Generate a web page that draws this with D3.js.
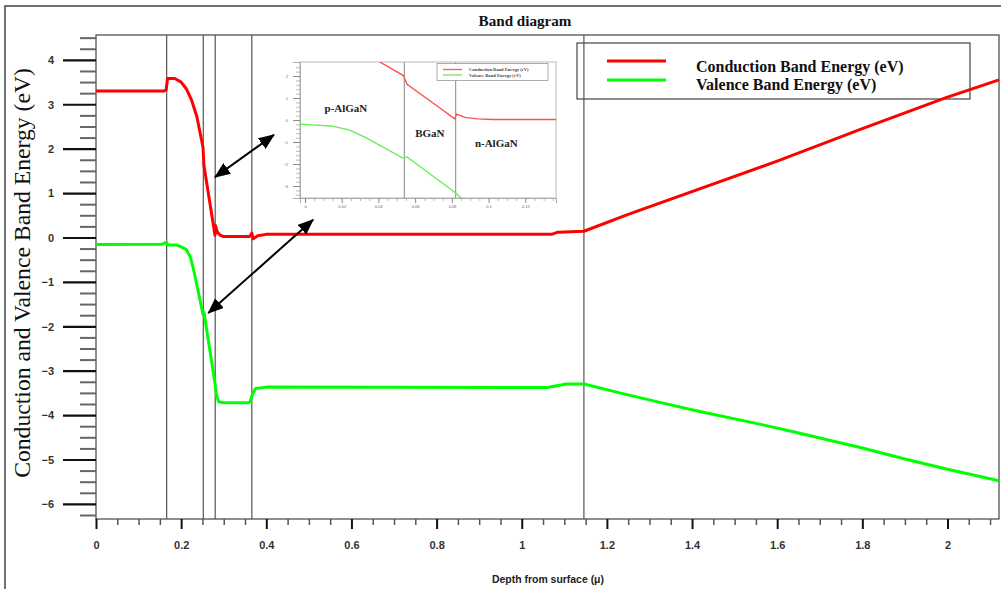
<!DOCTYPE html>
<html>
<head>
<meta charset="utf-8">
<script src="https://cdn.jsdelivr.net/npm/d3@7"></script>
<style>
  html, body { margin: 0; padding: 0; background: #fff; }
  svg { display: block; }
</style>
</head>
<body>
<svg id="chart" width="1001" height="589"></svg>
<script>
// ---------------- DATA ----------------
const title = "Band diagram";
const xLabel = "Depth from surface (\u03bc)";
const yLabel = "Conduction and Valence Band Energy (eV)";
const seriesNames = ["Conduction Band Energy (eV)", "Valence Band Energy (eV)"];

// Conduction band (depth in µm, energy in eV)
const cbX = [0, 0.160, 0.165, 0.168, 0.185, 0.200, 0.212, 0.225, 0.237, 0.2515, 0.2535, 0.268, 0.2795, 0.2805, 0.285, 0.292, 0.300, 0.360, 0.364, 0.366, 0.369, 0.380, 0.400, 1.070, 1.085, 1.146, 1.250, 1.600, 1.800, 2.000, 2.121];
const cbY = [3.30, 3.30, 3.33, 3.58, 3.58, 3.50, 3.35, 3.08, 2.72, 2.02, 1.62, 0.75, 0.05, 0.27, 0.12, 0.05, 0.02, 0.02, 0.06, 0.10, -0.03, 0.04, 0.07, 0.07, 0.12, 0.14, 0.52, 1.72, 2.45, 3.16, 3.55];

// Valence band
const vbX = [0, 0.155, 0.165, 0.170, 0.190, 0.200, 0.212, 0.222, 0.231, 0.2515, 0.2535, 0.2795, 0.283, 0.288, 0.300, 0.358, 0.362, 0.368, 0.375, 0.400, 1.060, 1.105, 1.146, 1.230, 1.332, 1.418, 1.567, 1.653, 1.800, 1.900, 2.000, 2.121];
const vbY = [-0.16, -0.15, -0.11, -0.17, -0.17, -0.21, -0.27, -0.45, -0.80, -1.74, -1.68, -3.28, -3.55, -3.70, -3.72, -3.72, -3.70, -3.52, -3.40, -3.37, -3.38, -3.30, -3.30, -3.50, -3.73, -3.92, -4.22, -4.41, -4.74, -4.99, -5.22, -5.48];

// Layer boundaries (µm)
const layerBounds = [0.166, 0.252, 0.280, 0.366, 1.146];

// Axis ticks
const xTicks = [0, 0.2, 0.4, 0.6, 0.8, 1, 1.2, 1.4, 1.6, 1.8, 2];
const yTicks = [4, 3, 2, 1, 0, -1, -2, -3, -4, -5, -6];

// Inset
const insetTickLabels = ["0", "0.02", "0.04", "0.06", "0.08", "0.1", "0.12"];
const insetYTicks = [2, 1, 0, -1, -2, -3];
const insetLayers = ["p-AlGaN", "BGaN", "n-AlGaN"];
const insetLayerPos = [[0.2202, 0.38], [0.2659, -0.77], [0.3021, -1.24]];

// Annotation arrows (data coordinates)
const arrows = [
  { x1: 0.2795, y1: 1.36, x2: 0.418, y2: 2.31 },
  { x1: 0.2637, y1: -1.70, x2: 0.510, y2: 0.40 }
];

// ---------------- DRAW ----------------
const svg = d3.select("#chart");
const SERIF = "'Liberation Serif','Times New Roman',serif";
const SANS = "'Liberation Sans',Arial,sans-serif";
const RED = "#ff0000", GREEN = "#00ff00";

const W = { l: 96, r: 999, t: 35, b: 519 };
const x = d3.scaleLinear().domain([0, 2.121]).range([W.l, W.r]);
const y = d3.scaleLinear().domain([-6.34, 4.56]).range([W.b, W.t]);

// outer frame
svg.append("rect").attr("x", 5).attr("y", 6).attr("width", 1010).attr("height", 600)
  .attr("fill", "none").attr("stroke", "#444").attr("stroke-width", 1.5);

function fitText(sel, target) {
  const len = sel.node().getComputedTextLength();
  const fs = parseFloat(sel.attr("font-size"));
  sel.attr("font-size", fs * target / len);
}

// title
fitText(svg.append("text").attr("x", 525).attr("y", 26).attr("text-anchor", "middle")
  .attr("font-family", SERIF).attr("font-weight", "bold").attr("font-size", 15)
  .attr("fill", "#111").text(title), 93);

// plot frame
svg.append("rect").attr("x", W.l).attr("y", W.t).attr("width", W.r - W.l).attr("height", W.b - W.t)
  .attr("fill", "none").attr("stroke", "#444").attr("stroke-width", 1.2);

// Y axis ticks
const yMinor = d3.range(-6.25, 4.56, 0.25).filter(v => Math.abs(v - Math.round(v)) > 1e-6);
const yAxisMinor = d3.axisLeft(y).tickValues(yMinor).tickSize(16).tickFormat("");
const yAxisMajor = d3.axisLeft(y).tickValues(yTicks).tickSize(33).tickPadding(10).tickFormat(d3.format("d"));
const gyMin = svg.append("g").attr("transform", `translate(${W.l},0)`).call(yAxisMinor);
gyMin.select(".domain").remove();
gyMin.selectAll("line").attr("stroke", "#666").attr("stroke-width", 2);
const gyMaj = svg.append("g").attr("transform", `translate(${W.l},0)`).call(yAxisMajor);
gyMaj.select(".domain").remove();
gyMaj.selectAll("line").attr("stroke", "#111").attr("stroke-width", 2.2);
gyMaj.selectAll("text").attr("font-family", SANS).attr("font-weight", "bold")
  .attr("font-size", 11).attr("fill", "#333").attr("x", -42).attr("dy", "0.35em");

// X axis ticks
const xMinor = d3.range(0.05, 2.12, 0.05).filter(v => Math.abs(v * 5 - Math.round(v * 5)) > 1e-6);
const xAxisMinor = d3.axisBottom(x).tickValues(xMinor).tickSize(6).tickFormat("");
const xAxisMajor = d3.axisBottom(x).tickValues(xTicks).tickSize(10).tickPadding(12).tickFormat(d3.format("~g"));
const gxMin = svg.append("g").attr("transform", `translate(0,${W.b})`).call(xAxisMinor);
gxMin.select(".domain").remove();
gxMin.selectAll("line").attr("stroke", "#555").attr("stroke-width", 1.5);
const gxMaj = svg.append("g").attr("transform", `translate(0,${W.b})`).call(xAxisMajor);
gxMaj.select(".domain").remove();
gxMaj.selectAll("line").attr("stroke", "#111").attr("stroke-width", 2);
gxMaj.selectAll("text").attr("font-family", SANS).attr("font-weight", "bold")
  .attr("font-size", 11).attr("fill", "#333");

// axis labels
fitText(svg.append("text").attr("x", 548).attr("y", 583).attr("text-anchor", "middle")
  .attr("font-family", SANS).attr("font-weight", "bold").attr("font-size", 10)
  .attr("fill", "#222").text(xLabel), 112);
fitText(svg.append("text").attr("transform", "translate(30,273) rotate(-90)").attr("text-anchor", "middle")
  .attr("font-family", SERIF).attr("font-size", 20).attr("fill", "#111").text(yLabel), 410);

// layer boundaries
svg.append("g").selectAll("line").data(layerBounds).join("line")
  .attr("x1", d => x(d)).attr("x2", d => x(d)).attr("y1", W.t).attr("y2", W.b)
  .attr("stroke", "#555").attr("stroke-width", 1.2);

// legend
const lg = svg.append("g");
lg.append("rect").attr("x", 577).attr("y", 43).attr("width", 393).attr("height", 56)
  .attr("fill", "none").attr("stroke", "#444").attr("stroke-width", 1.2);
[RED, GREEN].forEach((c, i) => {
  lg.append("line").attr("x1", 607).attr("x2", 666).attr("y1", 61 + i * 19).attr("y2", 61 + i * 19)
    .attr("stroke", c).attr("stroke-width", 3);
  lg.append("text").attr("x", 696).attr("y", 72 + i * 18).attr("font-family", SERIF)
    .attr("font-weight", "bold").attr("font-size", 16).attr("fill", "#111").text(seriesNames[i]);
});

// band curves
const line = d3.line().x(d => x(d[0])).y(d => y(d[1]));
const cb = d3.zip(cbX, cbY), vb = d3.zip(vbX, vbY);
svg.append("path").datum(cb).attr("d", line).attr("fill", "none").attr("stroke", RED)
  .attr("stroke-width", 3).attr("stroke-linejoin", "round");
svg.append("path").datum(vb).attr("d", line).attr("fill", "none").attr("stroke", GREEN)
  .attr("stroke-width", 3).attr("stroke-linejoin", "round");

// ---------------- INSET ----------------
const I = { l: 300, r: 556, t: 62, b: 198 };
const ix = d3.scaleLinear().domain([0.19518, 0.33464]).range([I.l, I.r]);
const iy = d3.scaleLinear().domain([-3.545, 2.636]).range([I.b, I.t]);
const defs = svg.append("defs");
defs.append("clipPath").attr("id", "insetClip").append("rect")
  .attr("x", I.l).attr("y", I.t).attr("width", I.r - I.l).attr("height", I.b - I.t);

const ins = svg.append("g");
ins.append("rect").attr("x", I.l).attr("y", I.t).attr("width", I.r - I.l).attr("height", I.b - I.t)
  .attr("fill", "#fff").attr("stroke", "#bbb").attr("stroke-width", 1);

const iyMinor = d3.range(-3.4, 2.6, 0.2).filter(v => Math.abs(v - Math.round(v)) > 1e-6);
const giyMin = ins.append("g").attr("transform", `translate(${I.l},0)`)
  .call(d3.axisLeft(iy).tickValues(iyMinor).tickSize(4).tickFormat(""));
giyMin.select(".domain").remove();
giyMin.selectAll("line").attr("stroke", "#aaa").attr("stroke-width", 0.8);
const giyMaj = ins.append("g").attr("transform", `translate(${I.l},0)`)
  .call(d3.axisLeft(iy).tickValues(insetYTicks).tickSize(7).tickPadding(5).tickFormat(d3.format("d")));
giyMaj.select(".domain").attr("stroke", "#aaa");
giyMaj.selectAll("line").attr("stroke", "#888").attr("stroke-width", 1);
giyMaj.selectAll("text").attr("font-family", SANS).attr("font-size", 4).attr("fill", "#666");

const ixTickVals = insetTickLabels.map((_, i) => 0.1979 + 0.02 * i);
const ixMinor = d3.range(0.1979, 0.334, 0.005).filter((v, i) => i % 4 !== 0);
const gixMin = ins.append("g").attr("transform", `translate(0,${I.b})`)
  .call(d3.axisBottom(ix).tickValues(ixMinor).tickSize(3).tickFormat(""));
gixMin.select(".domain").remove();
gixMin.selectAll("line").attr("stroke", "#aaa").attr("stroke-width", 0.8);
const gixMaj = ins.append("g").attr("transform", `translate(0,${I.b})`)
  .call(d3.axisBottom(ix).tickValues(ixTickVals).tickSize(5).tickPadding(2)
    .tickFormat((d, i) => insetTickLabels[i]));
gixMaj.select(".domain").attr("stroke", "#aaa");
gixMaj.selectAll("line").attr("stroke", "#888").attr("stroke-width", 1);
gixMaj.selectAll("text").attr("font-family", SANS).attr("font-size", 4).attr("fill", "#666");

// inset layer boundaries
ins.append("g").selectAll("line").data(layerBounds.filter(d => d > 0.19518 && d < 0.33464)).join("line")
  .attr("x1", d => ix(d)).attr("x2", d => ix(d)).attr("y1", I.t).attr("y2", I.b)
  .attr("stroke", "#888").attr("stroke-width", 1);

// inset curves
const iline = d3.line().x(d => ix(d[0])).y(d => iy(d[1]));
const icg = ins.append("g").attr("clip-path", "url(#insetClip)");
icg.append("path").datum(cb).attr("d", iline).attr("fill", "none").attr("stroke", "#ff5050").attr("stroke-width", 1.4);
icg.append("path").datum(vb).attr("d", iline).attr("fill", "none").attr("stroke", "#66ee55").attr("stroke-width", 1.4);

// inset legend
ins.append("rect").attr("x", 437).attr("y", 63.5).attr("width", 111).attr("height", 17)
  .attr("fill", "#fff").attr("stroke", "#999").attr("stroke-width", 0.8);
["#ff6060", "#77ee66"].forEach((c, i) => {
  ins.append("line").attr("x1", 443).attr("x2", 462).attr("y1", 69.5 + i * 5.5).attr("y2", 69.5 + i * 5.5)
    .attr("stroke", c).attr("stroke-width", 1.4);
  ins.append("text").attr("x", 469).attr("y", 71 + i * 5.5).attr("font-family", SERIF)
    .attr("font-weight", "bold").attr("font-size", 4.6).attr("fill", "#444").text(seriesNames[i]);
});

// inset layer names
ins.selectAll("text.layer").data(insetLayers).join("text").attr("class", "layer")
  .attr("x", (d, i) => ix(insetLayerPos[i][0])).attr("y", (d, i) => iy(insetLayerPos[i][1]))
  .attr("text-anchor", "middle").attr("font-family", SERIF).attr("font-weight", "bold")
  .attr("font-size", 11).attr("fill", "#222").text(d => d);

// ---------------- ARROWS ----------------
const mk = defs.append("marker").attr("id", "ah").attr("viewBox", "0 0 16 13")
  .attr("refX", 15).attr("refY", 6.5).attr("markerWidth", 16).attr("markerHeight", 13)
  .attr("markerUnits", "userSpaceOnUse").attr("orient", "auto-start-reverse");
mk.append("path").attr("d", "M0,0 L16,6.5 L0,13 Z").attr("fill", "#000");
svg.append("g").selectAll("line").data(arrows).join("line")
  .attr("x1", d => x(d.x1)).attr("y1", d => y(d.y1)).attr("x2", d => x(d.x2)).attr("y2", d => y(d.y2))
  .attr("stroke", "#000").attr("stroke-width", 2)
  .attr("marker-start", "url(#ah)").attr("marker-end", "url(#ah)");
</script>
</body>
</html>
